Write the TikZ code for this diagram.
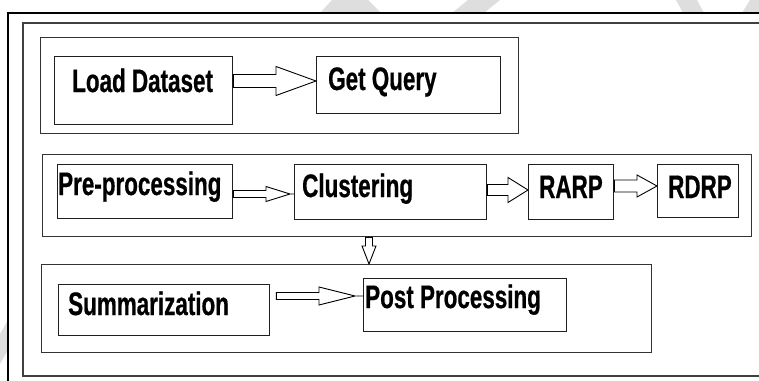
\documentclass[tikz,border=0pt]{standalone}
\usepackage{fontspec}
\usetikzlibrary{calc}
\newfontfamily\boxfont{Liberation Sans}[FakeStretch=0.69, FakeBold=0.6]

\tikzset{
  x=1pt, y=-1pt,
  group/.style={draw=black!80, line width=1.3pt, inner sep=0pt, anchor=north west},
  stage/.style={draw=black!88, line width=1.3pt, inner sep=0pt, anchor=north west},
  lbl/.style={inner sep=0pt, anchor=base west, font=\boxfont\bfseries\fontsize{32.5}{32.5}\selectfont},
  hollow/.style={draw=black, line width=0.9pt, fill=white, line join=miter},
  wmark/.style={fill=black!13, draw=none},
}

% horizontal hollow block arrow: from #1 to #2 at the height of #3,
% shaft half-height #4, head half-height #5, head length #6,
% gap before the shaft #7, short stem from the tip to the target #8
\newcommand\blockarrowH[8]{%
  \draw[hollow] let \p1=(#1 |- #3), \p2=(#2 |- #3),
    \n1={\x1+#7pt}, \n2={\x2-#8pt} in
    (\n1,{\y1+#4pt}) -- ({\n2-#6pt},{\y1+#4pt}) -- ({\n2-#6pt},{\y1+#5pt})
    -- (\n2,\y1) -- ({\n2-#6pt},{\y1-#5pt}) -- ({\n2-#6pt},{\y1-#4pt})
    -- (\n1,{\y1-#4pt}) -- cycle
    (\n2,\y1) -- (\x2,\y1);}
% vertical (downward) hollow block arrow
\newcommand\blockarrowV[6]{%
  \draw[hollow] let \p1=(#3 |- #1), \p2=(#3 |- #2) in
    ({\x1-#4pt},\y1) -- ({\x1-#4pt},{\y2+#6pt}) -- ({\x1-#5pt},{\y2+#6pt})
    -- (\x1,\y2) -- ({\x1+#5pt},{\y2+#6pt}) -- ({\x1+#4pt},{\y2+#6pt})
    -- ({\x1+#4pt},\y1) -- cycle;}

\begin{document}
\begin{tikzpicture}
\useasboundingbox (0,0) rectangle (759,380);
\clip (0,0) rectangle (759,380);

% faint background marks
\fill[wmark] (320,13) -- (332,0) -- (368,0) -- (381,13) -- cycle;
\fill[wmark] (452,13) -- (468,0) -- (500,0) -- (484,13) -- cycle;
\fill[wmark] (683,13) -- (676,0) -- (697,0) -- (704,13) -- cycle;
\fill[wmark] (742,13) -- (750,0) -- (759,0) -- (759,13) -- cycle;
\fill[wmark] (0,334) -- (8,320) -- (8,350) -- (0,364) -- cycle;

% outer frame lines
\draw[black, line width=1.5pt] (8,385) -- (8,13) -- (770,13);
\draw[black!75, line width=2pt] (770,376) -- (23,376) -- (23,23) -- (770,23);

% groups
\node[group, minimum width=478, minimum height=96] (g1) at (40,37) {};
\node[group, minimum width=709, minimum height=82] (g2) at (42,154) {};
\node[group, minimum width=610, minimum height=88] (g3) at (41,264) {};

% stages
\node[stage, minimum width=178, minimum height=68] (ld) at (54,56) {};
\node[stage, minimum width=184, minimum height=57] (gq) at (316,56) {};
\node[stage, minimum width=175, minimum height=54] (pp) at (57,164) {};
\node[stage, minimum width=192, minimum height=55] (cl) at (294,164) {};
\node[stage, minimum width=85,  minimum height=55] (ra) at (528,164) {};
\node[stage, minimum width=81,  minimum height=53] (rd) at (657,164) {};
\node[stage, minimum width=211, minimum height=51] (sm) at (58,284) {};
\node[stage, minimum width=203, minimum height=53] (po) at (363,278) {};

% stage labels
\node[lbl] (tld) at (72,92)  {Load Dataset};
\node[lbl] (tgq) at (328,90) {Get Query};
\node[lbl] (tpp) at (58,195) {Pre-processing};
\node[lbl] (tcl) at (302,197) {Clustering};
\node[lbl] (tra) at (539,198) {RARP};
\node[lbl] (trd) at (668,198) {RDRP};
\node[lbl] (tsm) at (68,315) {Summarization};
\node[lbl] (tpo) at (365,308) {Post Processing};

% arrow heights
\coordinate (h1) at (0,81);
\coordinate (h2) at (0,194);
\coordinate (h3) at (0,190);
\coordinate (h4) at (0,186);
\coordinate (h5) at (0,296);
\coordinate (v1) at (369,0);

% connectors
\blockarrowH{ld.east}{gq.west}{h1}{6.5}{14.5}{40}{0}{0}
\blockarrowH{pp.east}{cl.west}{h2}{3.5}{7.5}{24}{0}{4}
\blockarrowH{cl.east}{ra.west}{h3}{5.5}{12.5}{20}{0}{0}
\blockarrowH{ra.east}{rd.west}{h4}{6}{11}{20}{0}{0}
\blockarrowH{sm.east}{po.west}{h5}{3.5}{9}{36}{6}{8}
\blockarrowV{g2.south}{g3.north}{v1}{3.5}{7}{18}
\end{tikzpicture}
\end{document}
